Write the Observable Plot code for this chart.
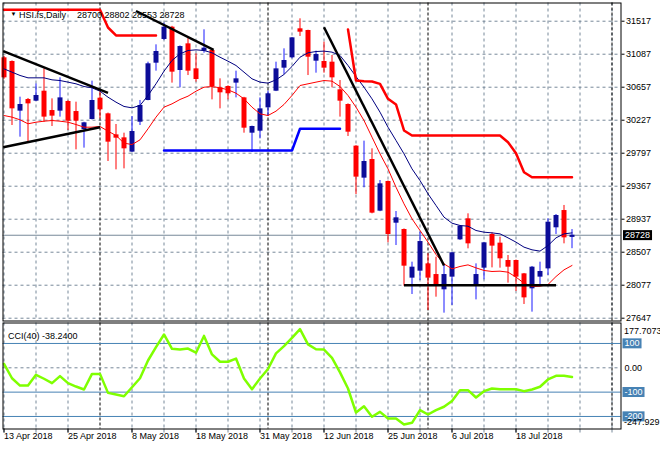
<!DOCTYPE html>
<html><head><meta charset="utf-8">
<script src="https://cdn.jsdelivr.net/npm/d3@7"></script>
<script src="https://cdn.jsdelivr.net/npm/@observablehq/plot@0.6"></script>
<style>
html,body{margin:0;padding:0;background:#fff;}
#chart svg{display:block;}
</style></head><body><div id="chart"></div>
<script>
// ---------- data ----------
const symbol = "HSI.fs,Daily";
const lastOHLC = [28700, 28802, 28553, 28728];
const cciTitle = "CCI(40) -38.2400";
const dateLabels = ["13 Apr 2018","25 Apr 2018","8 May 2018","18 May 2018","31 May 2018","12 Jun 2018","25 Jun 2018","6 Jul 2018","18 Jul 2018"];
const dateLabelBars = [0, 8, 16, 24, 32, 40, 48, 56, 64];
const gridBars = [0,4,8,16,20,24,28,32,36,40,44,48,52,56,60,64,68,72,76];
const separatorBars = [12, 33, 53, 76];
const priceTicks = [31517, 31087, 30657, 30227, 29797, 29367, 28937, 28507, 28077, 27647];
const cciLevels = [100, -100, -200];
const cciMaxLabel = "177.7073";
const cciMinLabel = "-247.929";

const open = [31040,30992,30345,30497,30475,30605,30353,30345,30471,30340,30106,30236,30514,30310,30036,29997,29811,30201,30484,30970,31279,31439,30875,31222,30896,31127,31135,30649,30666,30710,30518,30058,30084,30388,30605,30905,31040,31418,31396,30996,30992,30983,30623,30432,29889,29472,29715,29042,29428,28885,28803,28169,28260,28355,28216,28017,28182,28668,28942,28073,28299,28738,28625,28399,28399,28225,28030,28182,28290,28825,29050,28700];
const high = [31060,31000,30527,30510,30700,30896,30505,30779,30480,30462,30200,30736,30623,30320,30171,30058,30275,30484,30983,31209,31491,31450,31195,31300,31092,31405,31157,30766,30675,30866,30525,30150,30518,30605,30983,31157,31305,31548,31400,31127,31244,31070,30744,30440,29895,29954,29854,29441,29435,29037,28810,28377,28768,28486,28442,28334,28505,28850,29007,28355,28635,28759,28703,28464,28405,28230,28321,28377,28942,28998,29116,28802];
const low = [30760,30158,30006,29949,30470,30201,30145,30267,30093,29841,29863,30230,30245,29689,29580,29593,29805,30158,30480,30866,31266,30710,30649,30809,30723,31100,30492,30375,30492,30518,30058,29806,29984,30275,30600,30823,31027,31318,30809,30840,30840,30649,30267,30015,29259,29346,29007,29035,28629,28594,28064,27956,28138,27747,27921,27713,27813,28660,28551,27886,28147,28303,28299,28104,27995,27826,27726,28060,28203,28738,28616,28553];
const close = [30779,30375,30432,30440,30549,30267,30280,30518,30214,30214,30193,30484,30362,29941,29993,29854,30080,30419,30962,31122,31439,30853,31187,30866,30757,31166,30666,30584,30571,30766,30123,30145,30375,30571,30896,31005,31300,31374,31048,31083,30905,30779,30475,30071,29485,29689,29016,29398,28738,28955,28325,28312,28646,28169,28073,28216,28499,28846,28616,28216,28629,28586,28421,28312,28182,27912,28312,28256,28898,28985,28694,28728];

const maBlue = [30896,30853,30810,30779,30779,30779,30753,30744,30723,30701,30666,30649,30605,30527,30462,30406,30388,30419,30549,30701,30866,31005,31092,31135,31144,31135,31105,31048,30996,30940,30853,30766,30723,30710,30753,30823,30927,31048,31105,31122,31127,31114,31070,30940,30796,30657,30505,30332,30136,29963,29789,29593,29441,29268,29116,28964,28885,28855,28846,28790,28768,28759,28746,28694,28638,28573,28538,28521,28594,28694,28746,28759];
const maRed = [30288,30267,30232,30180,30201,30214,30223,30214,30201,30171,30136,30136,30145,30084,30028,29928,29910,29971,30115,30267,30397,30440,30497,30540,30605,30657,30666,30649,30623,30579,30505,30397,30310,30288,30345,30432,30549,30679,30701,30723,30744,30736,30666,30549,30397,30223,30006,29789,29593,29354,29137,28942,28790,28638,28477,28355,28290,28321,28342,28303,28269,28256,28260,28247,28182,28104,28060,28064,28086,28190,28277,28334];
const stopRed = [31666,31666,31666,31666,31666,31666,31666,31666,31666,31666,31666,31666,31666,31435,31331,31331,31331,31331,31331,31331,null,null,null,null,null,null,null,null,null,null,null,null,null,null,null,null,null,null,null,null,null,null,null,31410,30744,30735,30731,30701,30506,30432,30093,30028,30028,30028,30028,30028,30028,30028,30028,30028,30028,30028,30028,29940,29797,29549,29484,29484,29484,29484,29484,29484];
const supportBlue = [null,null,null,null,null,null,null,null,null,null,null,null,null,null,null,null,null,null,null,null,29832,29832,29832,29832,29832,29832,29832,29832,29832,29832,29832,29832,29832,29832,29832,29832,29832,30115,30115,30115,30115,30115,30115,null,null,null,null,null,null,null,null,null,null,null,null,null,null,null,null,null,null,null,null,null,null,null,null,null,null,null,null,null];

const trendStartBar = [-0.1, -0.1, 16.5, 40, 50];
const trendStartVal = [31126, 29875, 31650, 31439, 28075];
const trendEndBar = [13, 12, 26.2, 55, 69];
const trendEndVal = [30584, 30136, 31142, 28334, 28075];

const cci = [16,-43,-73,-73,-29,-45,-63,-34,-63,-77,-89,-25,-25,-103,-110,-117,-80,-43,30,85,137,78,75,79,62,131,55,25,25,38,-44,-88,-44,-5,59,89,123,159,96,76,75,41,-19,-85,-184,-158,-201,-181,-208,-208,-233,-226,-174,-192,-174,-160,-136,-92,-92,-122,-96,-85,-88,-88,-88,-96,-89,-78,-48,-33,-33,-38.24];

// ---------- helpers ----------
const FONT = "'Liberation Sans', Arial, sans-serif";
const GRID = "#778899";
const BULL_BODY = "#0c0c98", BULL_WICK = "#1a1aff", BEAR = "#ff0000";
const idx = (d, i) => i;
const num = d => (d == null ? NaN : d);
const candles = open.map((o, i) => ({i, o, h: high[i], l: low[i], c: close[i], up: close[i] >= o}));
const trendIdx = trendStartBar.map((d, i) => i);

// put a filled box behind every white text of an svg
function addBoxes(svg, fill, px, py) {
  const texts = new Set();
  svg.querySelectorAll('g[fill="white"] text, text[fill="white"]').forEach(t => texts.add(t));
  texts.forEach(t => {
    const b = t.getBBox();
    const r = document.createElementNS("http://www.w3.org/2000/svg", "rect");
    r.setAttribute("x", b.x - px);
    r.setAttribute("y", b.y - py);
    r.setAttribute("width", b.width + 2 * px);
    r.setAttribute("height", b.height + 2 * py);
    r.setAttribute("fill", fill);
    r.setAttribute("stroke", "none");
    if (t.getAttribute("transform")) r.setAttribute("transform", t.getAttribute("transform"));
    t.parentNode.insertBefore(r, t);
  });
}

const xDomain = [-0.125, 77.125];

// ---------- main price panel ----------
const main = Plot.plot({
  width: 660, height: 321,
  marginLeft: 2.5, marginRight: 39.5, marginTop: 2.5, marginBottom: 0.5,
  style: {fontFamily: FONT, background: "white", overflow: "visible"},
  x: {domain: xDomain, axis: null},
  y: {domain: [27610.6, 31754.2], axis: null},
  marks: [
    Plot.gridY(priceTicks, {stroke: GRID, strokeOpacity: 1, strokeDasharray: "3,3"}),
    Plot.gridX(gridBars, {stroke: GRID, strokeOpacity: 1, strokeDasharray: "3,3"}),
    Plot.ruleX(separatorBars, {stroke: "#000", strokeDasharray: "3,2"}),
    Plot.ruleY([lastOHLC[3]], {stroke: GRID}),
    Plot.ruleX(candles, {x: "i", y1: "l", y2: "h", stroke: d => d.up ? BULL_WICK : BEAR, strokeWidth: 1}),
    Plot.ruleX(candles, {x: "i", y1: "o", y2: "c", stroke: d => d.up ? BULL_BODY : BEAR, strokeWidth: 5}),
    Plot.line(maBlue, {x: idx, y: d => d, stroke: "#000080", strokeWidth: 1}),
    Plot.line(maRed, {x: idx, y: d => d, stroke: "#ff0000", strokeWidth: 1}),
    Plot.line(stopRed, {x: idx, y: num, stroke: "#ff0000", strokeWidth: 2.5}),
    Plot.line(supportBlue, {x: idx, y: num, stroke: "#0000ff", strokeWidth: 2.5}),
    Plot.link(trendIdx, {x1: i => trendStartBar[i], y1: i => trendStartVal[i], x2: i => trendEndBar[i], y2: i => trendEndVal[i], stroke: "#000", strokeWidth: 2.5}),
    Plot.axisY(priceTicks, {anchor: "right", tickSize: 3, tickPadding: 2, fontSize: 9, tickFormat: d => String(d)}),
    Plot.text([lastOHLC[3]], {y: d => d, frameAnchor: "right", dx: 4, textAnchor: "start", fill: "white", fontSize: 9, text: d => String(d)}),
    Plot.text(["\u25BC"], {frameAnchor: "top-left", dx: 7.5, dy: 8.5, textAnchor: "start", fontSize: 6, fill: "#000"}),
    Plot.text([symbol], {frameAnchor: "top-left", dx: 16, dy: 9, textAnchor: "start", fontSize: 9, fill: "#000"}),
    Plot.text([lastOHLC.join(" ")], {frameAnchor: "top-left", dx: 74, dy: 9, textAnchor: "start", fontSize: 9, fill: "#000"}),
    Plot.frame({stroke: "#000"})
  ]
});

// ---------- CCI panel ----------
const cciPlot = Plot.plot({
  width: 660, height: 129,
  marginLeft: 2.5, marginRight: 39.5, marginTop: 1.5, marginBottom: 21.5,
  style: {fontFamily: FONT, background: "white", overflow: "visible"},
  x: {domain: xDomain, axis: null},
  y: {domain: [-251.5, 184.1], axis: null},
  marks: [
    Plot.gridX(gridBars, {stroke: GRID, strokeOpacity: 1, strokeDasharray: "3,3"}),
    Plot.ruleX(separatorBars, {stroke: "#000", strokeDasharray: "3,2"}),
    Plot.gridY([0], {stroke: GRID, strokeOpacity: 1, strokeDasharray: "3,3"}),
    Plot.ruleY(cciLevels, {stroke: "#4682b4"}),
    Plot.line(cci, {x: idx, y: d => d, stroke: "#7fff00", strokeWidth: 2.5}),
    Plot.text([cciTitle], {frameAnchor: "top-left", dx: 5, dy: 10, textAnchor: "start", fontSize: 9, fill: "#000"}),
    Plot.text(cciLevels, {y: d => d, frameAnchor: "right", dx: 3.5, textAnchor: "start", fill: "white", fontSize: 9, text: d => String(d)}),
    Plot.text([0], {y: d => d, frameAnchor: "right", dx: 3.5, textAnchor: "start", fill: "#000", fontSize: 9, text: () => "0.00"}),
    Plot.text([cciMaxLabel], {frameAnchor: "top-right", dx: 3, dy: 5, textAnchor: "start", fill: "#000", fontSize: 9}),
    Plot.text([cciMinLabel], {frameAnchor: "bottom-right", dx: 3, dy: -4, textAnchor: "start", fill: "#000", fontSize: 9}),
    Plot.axisX(gridBars, {anchor: "bottom", tickSize: 4, stroke: GRID, tickFormat: () => ""}),
    Plot.axisX(dateLabelBars, {anchor: "bottom", tickSize: 4, tickFormat: () => ""}),
    Plot.text(dateLabelBars, {x: d => d, frameAnchor: "bottom", dy: 9.5, textAnchor: "start", fontSize: 9, fill: "#000", text: d => dateLabels[dateLabelBars.indexOf(d)]}),
    Plot.frame({stroke: "#000"})
  ]
});

const root = document.getElementById("chart");
root.appendChild(main);
root.appendChild(cciPlot);
addBoxes(main, "#000", 2, 0);
addBoxes(cciPlot, "#4682b4", 2, 0);
</script>
</body></html>
